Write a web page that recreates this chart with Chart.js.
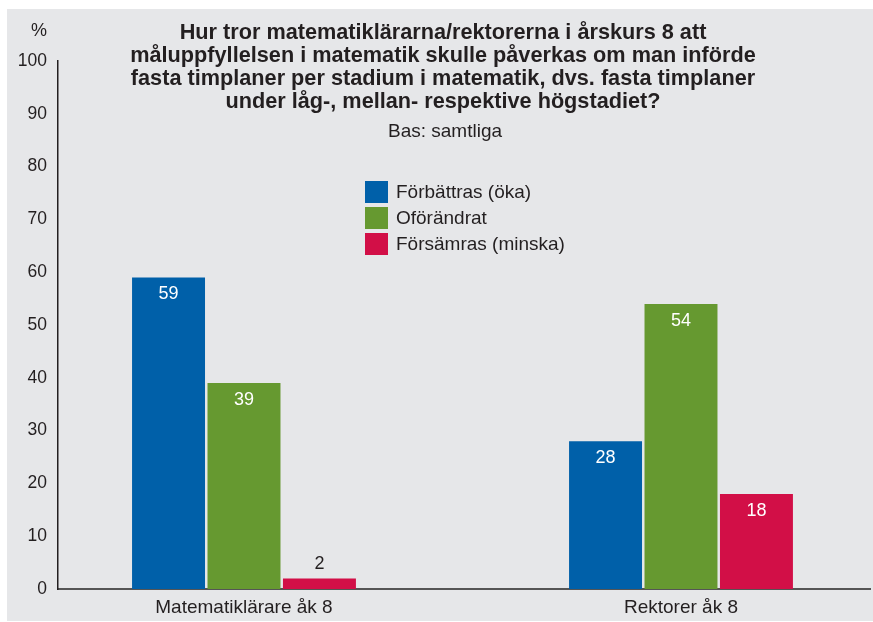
<!DOCTYPE html>
<html><head><meta charset="utf-8">
<script src="https://cdn.jsdelivr.net/npm/chart.js@4"></script>
<style>
html,body{margin:0;padding:0;background:#fff;}
#panel{position:absolute;left:7px;top:9px;width:866px;height:612px;background:#e6e7e9;font-family:"Liberation Sans",Arial,sans-serif;color:#231f20;}
#c{position:absolute;left:0;top:0;}
.t{position:absolute;text-align:center;white-space:nowrap;}
#title{top:11px;font-weight:bold;font-size:21.7px;line-height:23px;left:0px;width:872px;}
#sub{top:112px;font-size:19px;line-height:20px;left:0px;width:876px;}
#pct{position:absolute;left:24px;top:11px;font-size:18px;}
#legend{position:absolute;left:358px;top:170px;font-size:19px;}
.li{height:26px;display:flex;align-items:center;}
.sw{width:23px;height:22px;margin-right:8px;}
</style></head>
<body>
<div id="panel">
<canvas id="c" width="866" height="612"></canvas>
<div id="pct">%</div>
<div class="t" id="title">Hur tror matematiklärarna/rektorerna i årskurs 8 att<br>måluppfyllelsen i matematik skulle påverkas om man införde<br>fasta timplaner per stadium i matematik, dvs. fasta timplaner<br>under låg-, mellan- respektive högstadiet?</div>
<div class="t" id="sub">Bas: samtliga</div>
<div id="legend"></div>
</div>
<script>
const categories = ["Matematiklärare åk 8", "Rektorer åk 8"];
const seriesNames = ["Förbättras (öka)", "Oförändrat", "Försämras (minska)"];
const forbattras = [59, 28];
const oforandrat = [39, 54];
const forsamras = [2, 18];
const yTicks = [0,10,20,30,40,50,60,70,80,90,100];
const colors = ["#0060a9", "#669930", "#d20f47"];

const seriesValues = [forbattras, oforandrat, forsamras];
const datasets = seriesValues.map((vals, i) => ({
  label: seriesNames[i],
  data: vals.map((v, j) => ({x: j, y: v})),
  backgroundColor: colors[i],
  categoryPercentage: 0.518,
  barPercentage: 0.967
}));

const leg = document.getElementById('legend');
seriesNames.forEach((n, i) => {
  const d = document.createElement('div'); d.className = 'li';
  const s = document.createElement('div'); s.className = 'sw'; s.style.background = colors[i];
  const t = document.createElement('span'); t.textContent = n;
  d.appendChild(s); d.appendChild(t); leg.appendChild(d);
});

const labelPlugin = {
  id: 'vlabels',
  afterDatasetsDraw(chart) {
    const ctx = chart.ctx;
    ctx.save();
    ctx.font = '18px "Liberation Sans", Arial, sans-serif';
    ctx.textAlign = 'center';
    ctx.textBaseline = 'middle';
    chart.data.datasets.forEach((ds, di) => {
      chart.getDatasetMeta(di).data.forEach((bar, j) => {
        const v = ds.data[j].y;
        const h = bar.base - bar.y;
        if (h > 30) { ctx.fillStyle = '#ffffff'; ctx.fillText(String(v), bar.x, bar.y + 17); }
        else { ctx.fillStyle = '#231f20'; ctx.fillText(String(v), bar.x, bar.y - 14); }
      });
    });
    ctx.restore();
  }
};

new Chart(document.getElementById('c'), {
  type: 'bar',
  data: { datasets },
  plugins: [labelPlugin],
  options: {
    responsive: false,
    animation: false,
    layout: { padding: { top: 52, right: 3, left: 0, bottom: 0 } },
    plugins: { legend: { display: false }, tooltip: { enabled: false } },
    scales: {
      x: {
        type: 'linear',
        min: -0.4256, max: 1.4325,
        offset: false,
        grid: { display: false, drawTicks: false },
        border: { display: true, color: '#555555', width: 2 },
        afterBuildTicks: (s) => { s.ticks = categories.map((c, i) => ({ value: i })); },
        afterFit: (s) => { s.height = 32; },
        ticks: {
          autoSkip: false, maxRotation: 0, padding: 7,
          color: '#231f20', font: { size: 19, family: '"Liberation Sans", Arial, sans-serif' },
          callback: (v) => categories[v]
        }
      },
      y: {
        min: 0, max: 100,
        afterBuildTicks: (s) => { s.ticks = yTicks.map(v => ({ value: v })); },
        afterFit: (s) => { s.width = 51; },
        grid: { display: false, drawTicks: false },
        border: { display: true, color: '#231f20', width: 1.5 },
        ticks: {
          padding: 11, color: '#231f20',
          font: { size: 17.5, family: '"Liberation Sans", Arial, sans-serif' }
        }
      }
    }
  }
});
</script>
</body></html>
